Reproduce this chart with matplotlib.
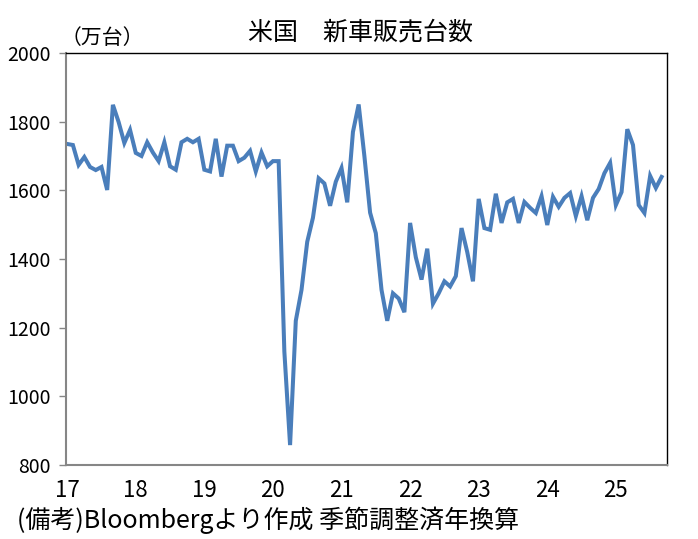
import numpy as np
import matplotlib
matplotlib.use("Agg")
import matplotlib.pyplot as plt

plt.rcParams['font.family'] = ['Noto Sans CJK JP', 'DejaVu Sans']

# 米国 新車販売台数 (万台, 季節調整済年換算), 2017/1 - 2025/9 monthly
sales_2017 = [1735, 1732, 1674, 1697, 1668, 1659, 1668, 1601, 1849, 1799, 1738, 1776]
sales_2018 = [1709, 1700, 1740, 1710, 1685, 1740, 1670, 1660, 1740, 1750, 1740, 1750]
sales_2019 = [1660, 1655, 1750, 1640, 1730, 1730, 1685, 1695, 1715, 1655, 1710, 1670]
sales_2020 = [1685, 1685, 1130, 858, 1220, 1310, 1450, 1520, 1635, 1620, 1555, 1625]
sales_2021 = [1665, 1565, 1770, 1850, 1700, 1535, 1475, 1310, 1220, 1300, 1285, 1245]
sales_2022 = [1505, 1405, 1340, 1430, 1270, 1300, 1335, 1320, 1350, 1490, 1420, 1335]
sales_2023 = [1575, 1490, 1485, 1590, 1505, 1565, 1575, 1505, 1566, 1549, 1534, 1583]
sales_2024 = [1499, 1581, 1552, 1578, 1592, 1525, 1583, 1513, 1578, 1604, 1650, 1680]
sales_2025 = [1557, 1595, 1778, 1732, 1557, 1534, 1642, 1607, 1639]

year_labels = ["17", "18", "19", "20", "21", "22", "23", "24", "25"]
y_ticks = [800, 1000, 1200, 1400, 1600, 1800, 2000]

sales = np.array(sales_2017 + sales_2018 + sales_2019 + sales_2020 + sales_2021
                 + sales_2022 + sales_2023 + sales_2024 + sales_2025)
months = np.arange(len(sales))

fig = plt.figure(figsize=(6.98, 5.39), dpi=100)
ax = fig.add_axes([0.0946, 0.1373, 0.861, 0.7644])

ax.plot(months, sales, color="#4a7ebb", lw=2.9, solid_joinstyle="miter")

ax.set_xlim(-0.2, 104.95)
ax.set_ylim(800, 2000)
ax.set_yticks(y_ticks)
ax.set_xticks(np.arange(len(year_labels)) * 12)
ax.set_xticklabels(year_labels)

ax.tick_params(axis="y", length=5, width=1, color="#868686", pad=6, labelsize=14)
ax.tick_params(axis="x", length=0, pad=10, labelsize=16)

for side in ["left", "bottom"]:
    ax.spines[side].set_color("#868686")
    ax.spines[side].set_linewidth(1.5)
for side in ["top", "right"]:
    ax.spines[side].set_color("black")
    ax.spines[side].set_linewidth(1)

fig.text(0.516, 0.94, "米国　新車販売台数", ha="center", va="center", fontsize=18)
fig.text(0.086, 0.93, "（万台）", ha="left", va="center", fontsize=15)
fig.text(0.024, 0.034, "(備考)Bloombergより作成 季節調整済年換算",
         ha="left", va="center", fontsize=18)

fig.savefig("out.png", dpi=100)
